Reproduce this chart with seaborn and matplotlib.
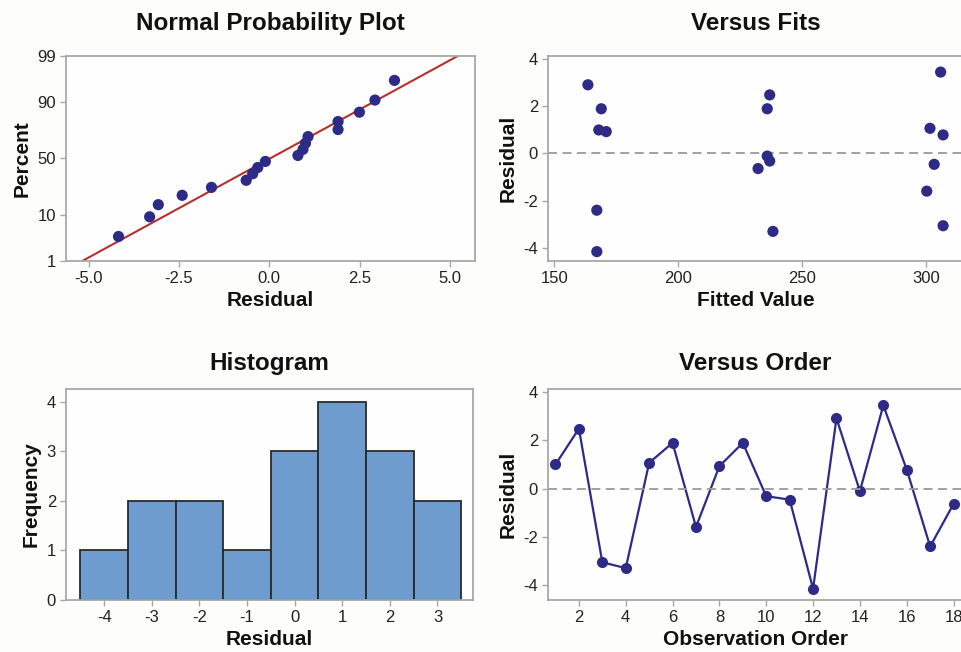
import statistics

import matplotlib
matplotlib.use("Agg")
import matplotlib.pyplot as plt
import numpy as np
import pandas as pd
import seaborn as sns

sns.set_theme(style="white")
plt.rcParams['font.family'] = ['Liberation Sans', 'DejaVu Sans']
plt.rcParams['axes.unicode_minus'] = False

residuals = [1.00, 2.49, -3.07, -3.31, 1.07, 1.90, -1.60, 0.93, 1.90,
             -0.32, -0.46, -4.17, 2.92, -0.11, 3.46, 0.79, -2.41, -0.64]
fitted = [168.0, 237.0, 307.0, 238.3, 301.7, 169.0, 300.4, 171.0, 236.0,
          237.0, 303.4, 167.2, 163.6, 236.0, 306.0, 307.0, 167.2, 232.3]
order = list(range(1, 19))

pct_ticks = [1, 10, 50, 90, 99]
hist_edges = [-4.5, -3.5, -2.5, -1.5, -0.5, 0.5, 1.5, 2.5, 3.5]

df = pd.DataFrame({"Residual": residuals, "Fitted": fitted, "Order": order})

dot = "#2e2b86"
spine = "#a8a8a8"
title_kw = dict(fontsize=17.5, fontweight="bold", color="#111111")
lab_kw = dict(fontsize=15, fontweight="bold", color="#111111")

fig = plt.figure(figsize=(9.61, 6.52), dpi=100)
fig.patch.set_facecolor("#fdfdfb")
ax1 = fig.add_axes([0.0684, 0.600, 0.426, 0.314])
ax2 = fig.add_axes([0.570, 0.600, 0.432, 0.314])
ax3 = fig.add_axes([0.0684, 0.080, 0.424, 0.323])
ax4 = fig.add_axes([0.570, 0.080, 0.432, 0.323])

# normal probability plot (median ranks, Minitab style)
nd = statistics.NormalDist()
n = len(residuals)
sres = np.sort(residuals)
pct = (np.arange(1, n + 1) - 0.3) / (n + 0.4)
prob = pd.DataFrame({"x": sres, "z": [nd.inv_cdf(p) for p in pct]})
zlo, zhi = nd.inv_cdf(0.01), nd.inv_cdf(0.99)
mu, sd = np.mean(residuals), np.std(residuals, ddof=1)
fit = pd.DataFrame({"x": [mu + sd * zlo, mu + sd * zhi], "z": [zlo, zhi]})
sns.lineplot(data=fit, x="x", y="z", ax=ax1, color="#b5302a", linewidth=1.5)
sns.scatterplot(data=prob, x="x", y="z", ax=ax1, color=dot, s=65,
                edgecolor="none", zorder=3)
ax1.set_ylim(zlo, zhi)
ax1.set_xlim(-5.63, 5.69)
ax1.set_yticks([nd.inv_cdf(p / 100) for p in pct_ticks])
ax1.set_yticklabels([str(p) for p in pct_ticks])
ax1.set_xticks([-5, -2.5, 0, 2.5, 5])
ax1.set_xticklabels(["-5.0", "-2.5", "0.0", "2.5", "5.0"])
ax1.set_title("Normal Probability Plot", pad=19, **title_kw)
ax1.set_xlabel("Residual", **lab_kw)
ax1.set_ylabel("Percent", **lab_kw)

# versus fits
sns.scatterplot(data=df, x="Fitted", y="Residual", ax=ax2, color=dot, s=65,
                edgecolor="none", zorder=3)
ax2.axhline(0, color="#9a9a9a", linestyle=(0, (5, 3)), linewidth=1.3)
ax2.set_xlim(147.4, 315)
ax2.set_ylim(-4.56, 4.14)
ax2.set_xticks([150, 200, 250, 300])
ax2.set_yticks([-4, -2, 0, 2, 4])
ax2.set_title("Versus Fits", pad=19, **title_kw)
ax2.set_xlabel("Fitted Value", **lab_kw)
ax2.set_ylabel("Residual", **lab_kw)

# histogram
sns.histplot(data=df, x="Residual", bins=hist_edges, ax=ax3, color="#6e9ccf",
             edgecolor="#2a2a2a", linewidth=1.3, alpha=1)
ax3.set_xlim(-4.81, 3.75)
ax3.set_ylim(0, 4.25)
ax3.set_xticks(range(-4, 4))
ax3.set_yticks(range(0, 5))
ax3.set_title("Histogram", pad=14, **title_kw)
ax3.set_xlabel("Residual", **lab_kw)
ax3.set_ylabel("Frequency", **lab_kw)

# versus order
sns.lineplot(data=df, x="Order", y="Residual", ax=ax4, color=dot,
             linewidth=1.6, marker="o", markersize=8, markeredgewidth=0)
ax4.axhline(0, color="#9a9a9a", linestyle=(0, (5, 3)), linewidth=1.3)
ax4.set_xlim(0.67, 18.4)
ax4.set_ylim(-4.63, 4.13)
ax4.set_xticks(range(2, 19, 2))
ax4.set_yticks([-4, -2, 0, 2, 4])
ax4.set_title("Versus Order", pad=14, **title_kw)
ax4.set_xlabel("Observation Order", **lab_kw)
ax4.set_ylabel("Residual", **lab_kw)

for ax in (ax1, ax2, ax3, ax4):
    ax.set_facecolor("#fefefe")
    for s in ax.spines.values():
        s.set_color(spine)
        s.set_linewidth(1.3)
    ax.tick_params(axis="both", which="major", labelsize=12, length=4,
                   width=1, color=spine, labelcolor="#222222", pad=3,
                   bottom=True, left=True)
    ax.grid(False)

fig.savefig("out.png", dpi=100, facecolor=fig.get_facecolor())
